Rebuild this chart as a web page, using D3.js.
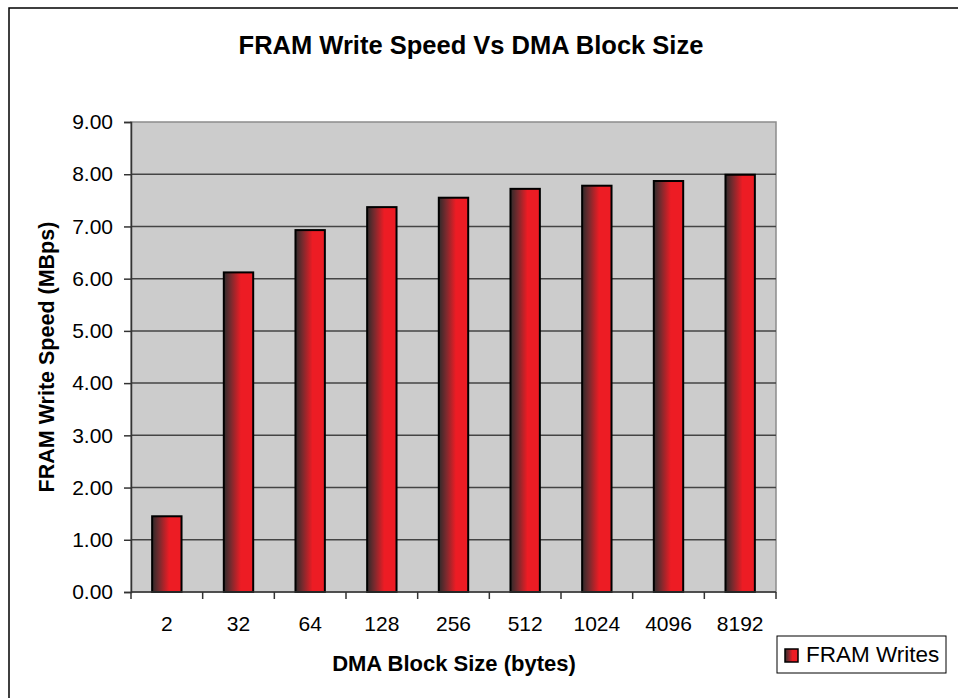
<!DOCTYPE html>
<html>
<head>
<meta charset="utf-8">
<script src="https://cdn.jsdelivr.net/npm/d3@7"></script>
<style>
body { margin: 0; background: #fff; }
text { font-family: Arial, "Liberation Sans", sans-serif; fill: #000; }
</style>
</head>
<body>
<svg width="958" height="698"></svg>
<script>
'use strict';
// chart data
let blockSizes = ["2", "32", "64", "128", "256", "512", "1024", "4096", "8192"]
let writeSpeeds = [1.45, 6.12, 6.93, 7.37, 7.55, 7.72, 7.78, 7.87, 7.99]
let yTicks = [0, 1, 2, 3, 4, 5, 6, 7, 8, 9]
let seriesName = "FRAM Writes"

let eSvg = d3.select("svg")
let plot = {left: 131, top: 122, right: 776, bottom: 592}

// gradient used by the bars and the legend swatch
let defs = eSvg.append("defs")
let grad = defs.append("linearGradient").attr("id", "barGrad")
	.attr("x1", 0).attr("x2", 1).attr("y1", 0).attr("y2", 0)
grad.append("stop").attr("offset", "0%").attr("stop-color", "#2e2a2a")
grad.append("stop").attr("offset", "25%").attr("stop-color", "#7a2a2e")
grad.append("stop").attr("offset", "58%").attr("stop-color", "#ed1c24")
grad.append("stop").attr("offset", "100%").attr("stop-color", "#ed1c24")

// outer chart border (right/bottom run off the page)
eSvg.append("rect").attr("x", 9).attr("y", 8).attr("width", 1000).attr("height", 1000)
	.attr("fill", "#fff").attr("stroke", "#000").attr("stroke-width", 1.5)

let x = d3.scaleBand().domain(blockSizes).range([plot.left, plot.right]).padding(0)
let y = d3.scaleLinear().domain([0, 9]).range([plot.bottom, plot.top])

// plot background
eSvg.append("rect").attr("x", plot.left).attr("y", plot.top)
	.attr("width", plot.right - plot.left).attr("height", plot.bottom - plot.top)
	.attr("fill", "#cccccc").attr("stroke", "#8c8c8c").attr("stroke-width", 1.5)

// gridlines
eSvg.append("g").selectAll("line")
	.data(yTicks.filter(d => d > 0 && d < 9))
	.enter().append("line")
	.attr("x1", plot.left).attr("x2", plot.right)
	.attr("y1", d => y(d)).attr("y2", d => y(d))
	.attr("stroke", "#444").attr("stroke-width", 1.5)

// bars
let barW = x.bandwidth() * 0.41
eSvg.append("g").selectAll("rect")
	.data(writeSpeeds)
	.enter().append("rect")
	.attr("x", (d, i) => x(blockSizes[i]) + x.bandwidth() / 2 - barW / 2)
	.attr("y", d => y(d))
	.attr("width", barW)
	.attr("height", d => y(0) - y(d))
	.attr("fill", "url(#barGrad)")
	.attr("stroke", "#000").attr("stroke-width", 2)

// y axis
let yAxis = eSvg.append("g").attr("transform", `translate(${plot.left},0)`)
	.call(d3.axisLeft(y).tickValues(yTicks).tickFormat(d3.format(".2f")).tickSize(7).tickPadding(11))
yAxis.select(".domain").attr("stroke", "#333").attr("stroke-width", 1.5)
yAxis.selectAll(".tick line").attr("stroke", "#333").attr("stroke-width", 1.5)
yAxis.selectAll("text").attr("font-size", 21).attr("font-family", "Arial, 'Liberation Sans', sans-serif")

// x axis: ticks at category boundaries
let xAxis = eSvg.append("g").attr("transform", `translate(0,${plot.bottom})`)
xAxis.append("line").attr("x1", plot.left).attr("x2", plot.right)
	.attr("stroke", "#333").attr("stroke-width", 1.5)
xAxis.selectAll("line.tk")
	.data(blockSizes.concat(["end"]))
	.enter().append("line").attr("class", "tk")
	.attr("x1", (d, i) => plot.left + i * x.step()).attr("x2", (d, i) => plot.left + i * x.step())
	.attr("y1", 0).attr("y2", 7)
	.attr("stroke", "#333").attr("stroke-width", 1.5)
xAxis.selectAll("text")
	.data(blockSizes)
	.enter().append("text")
	.attr("x", d => x(d) + x.bandwidth() / 2)
	.attr("y", 39)
	.attr("text-anchor", "middle")
	.attr("font-size", 21)
	.text(d => d)

// titles
eSvg.append("text").attr("x", 471).attr("y", 54).attr("text-anchor", "middle")
	.attr("font-size", 25.5).attr("font-weight", "bold")
	.text("FRAM Write Speed Vs DMA Block Size")
eSvg.append("text").attr("x", 454).attr("y", 671).attr("text-anchor", "middle")
	.attr("font-size", 22).attr("font-weight", "bold")
	.text("DMA Block Size (bytes)")
eSvg.append("text").attr("transform", "translate(54,357) rotate(-90)").attr("text-anchor", "middle")
	.attr("font-size", 21.5).attr("font-weight", "bold")
	.text("FRAM Write Speed (MBps)")

// legend
let leg = eSvg.append("g")
leg.append("rect").attr("x", 777).attr("y", 636).attr("width", 169).attr("height", 37)
	.attr("fill", "#fff").attr("stroke", "#000").attr("stroke-width", 1)
leg.append("rect").attr("x", 785).attr("y", 649).attr("width", 13).attr("height", 13)
	.attr("fill", "url(#barGrad)").attr("stroke", "#000").attr("stroke-width", 1.5)
leg.append("text").attr("x", 806).attr("y", 662).attr("font-size", 22.5).text(seriesName)
</script>
</body>
</html>
